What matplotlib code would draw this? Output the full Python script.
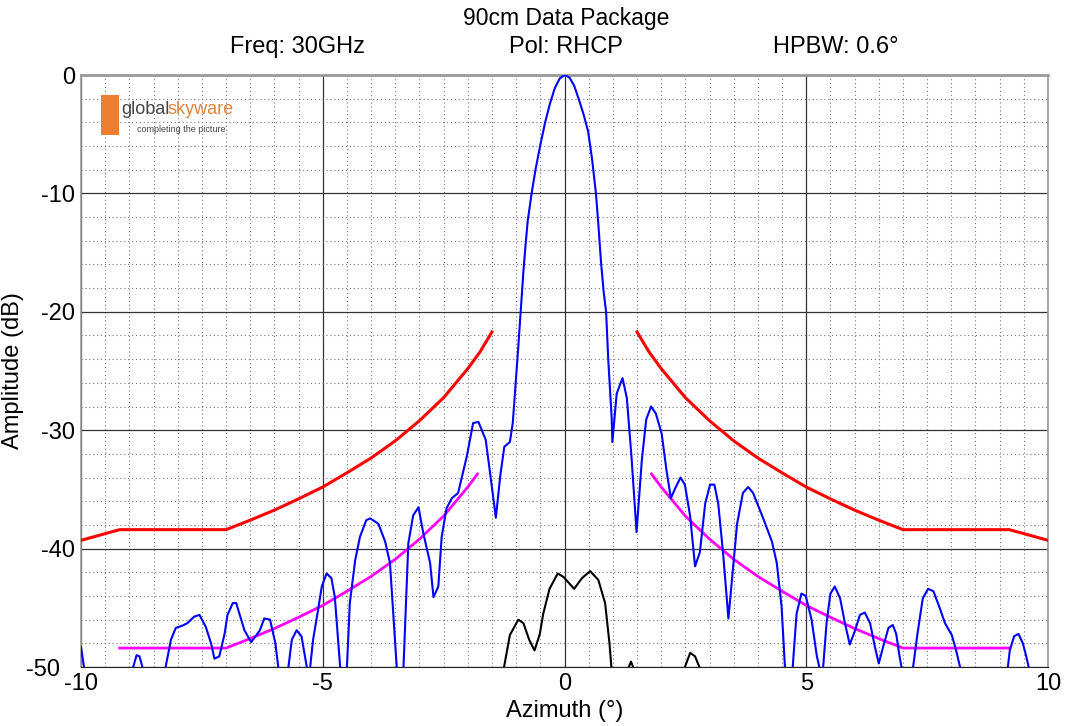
import matplotlib
matplotlib.use("Agg")
import matplotlib.pyplot as plt
from matplotlib.patches import Rectangle
from matplotlib.ticker import MultipleLocator
from matplotlib.transforms import ScaledTranslation

plt.rcParams["font.family"] = ["Liberation Sans", "DejaVu Sans"]
plt.rcParams["axes.unicode_minus"] = False

# co-polar pattern (blue), values below -50 fall under the plot floor
co_az = [-10.0, -9.92, -9.85, -9.4, -8.97, -8.92, -8.85, -8.79, -8.73, -8.68, -8.5, -8.3,
         -8.25, -8.14, -8.04, -7.9, -7.8, -7.66, -7.55, -7.42, -7.31, -7.24, -7.14, -7.03,
         -6.97, -6.86, -6.79, -6.62, -6.48, -6.3, -6.21, -6.09, -5.98, -5.92, -5.87, -5.8,
         -5.75, -5.71, -5.64, -5.54, -5.44, -5.33, -5.3, -5.26, -5.2, -5.11, -5.02, -4.92,
         -4.82, -4.75, -4.64, -4.58, -4.5, -4.44, -4.33, -4.23, -4.1, -4.02, -3.85, -3.71,
         -3.61, -3.47, -3.4, -3.33, -3.23, -3.13, -3.02, -2.92, -2.78, -2.71, -2.61, -2.54,
         -2.44, -2.33, -2.2, -2.02, -1.89, -1.78, -1.63, -1.53, -1.42, -1.33, -1.245, -1.13,
         -1.07, -1.02, -0.96, -0.906, -0.85, -0.8, -0.76, -0.68, -0.6, -0.5, -0.4, -0.3, -0.2,
         -0.1, 0.0, 0.1, 0.2, 0.3, 0.4, 0.49, 0.57, 0.65, 0.7, 0.755, 0.81,
         0.86, 0.906, 0.976, 0.99, 1.08, 1.2, 1.29, 1.39, 1.49, 1.6, 1.69, 1.79,
         1.89, 2.01, 2.11, 2.2, 2.29, 2.4, 2.49, 2.6, 2.7, 2.8, 2.91, 3.01, 3.1, 3.18, 3.28,
         3.39, 3.49, 3.57, 3.69, 3.8, 3.9, 4.11, 4.29, 4.39, 4.49, 4.56, 4.64, 4.72, 4.8, 4.9,
         4.99, 5.11, 5.22, 5.27, 5.31, 5.35, 5.42, 5.5, 5.59, 5.7, 5.8, 5.9, 6.01, 6.11, 6.21,
         6.32, 6.42, 6.5, 6.59, 6.7, 6.79, 6.86, 6.93, 6.97, 7.08, 7.21, 7.3, 7.41, 7.52, 7.63,
         7.75, 7.87, 8.01, 8.1, 8.18, 8.25, 8.7, 9.1, 9.17, 9.21, 9.3, 9.39, 9.48, 9.55, 9.6,
         9.7, 10.0]
co_db = [-48.3, -50.5, -56, -58, -53, -50, -49.0, -49.1, -50, -53, -57, -53,
         -50, -47.7, -46.7, -46.5, -46.3, -45.75, -45.6, -46.6, -48.0, -49.3, -49.1, -47.2,
         -45.6, -44.6, -44.6, -46.9, -47.9, -46.9, -45.9, -46.0, -48, -50, -53, -55,
         -53, -50, -47.7, -46.9, -47.4, -50, -53, -50, -47.7, -45.5, -43.2, -42.1,
         -42.5, -44.1, -50, -56, -50, -44.6, -41.0, -39.0, -37.6, -37.45, -37.9, -39.4,
         -41.2, -50, -57, -50, -39.55, -37.2, -36.5, -38.7, -41.2, -44.1, -43.2, -39.0,
         -36.6, -35.75, -35.3, -32.2, -29.4, -29.3, -30.8, -33.9, -37.4, -33.9, -31.4, -31.0,
         -29.4, -26.6, -23.2, -20.0, -16.6, -14.1, -12.3, -10.0, -8.0, -5.9, -4.0, -2.4, -1.1,
         -0.3, 0.0, -0.2, -0.9, -2.1, -3.4, -4.8, -7.1, -10.0, -12.6, -15.8, -18.3,
         -20.0, -24.1, -29.0, -31.0, -26.9, -25.6, -27.3, -32.5, -38.6, -32.5, -29.1, -28.0,
         -28.6, -30.3, -33.4, -35.75, -34.9, -34.0, -34.6, -37.3, -41.5, -40.3, -36.2, -34.6, -34.6, -36.2, -40.4,
         -45.9, -41.5, -37.9, -35.3, -34.8, -35.3, -37.45, -39.4, -41.2, -44.9, -50, -56, -50, -45.5, -43.8,
         -44.0, -46.0, -49.1, -50, -53, -50, -46.3, -43.8, -43.2, -44.2, -46.3, -48.1, -46.9, -45.6, -45.4,
         -46.3, -48.3, -49.7, -48.3, -46.7, -46.45, -47.2, -49.1, -50, -57, -50, -47.2, -44.2, -43.4, -43.6,
         -44.9, -46.3, -47.3, -48.6, -50, -54, -57, -54, -50, -48.6, -47.4, -47.2, -48.0, -49.1, -50,
         -54, -56]

# cross-polar pattern (black)
xp_az = [-1.35, -1.25, -1.13, -0.955, -0.85, -0.73, -0.62, -0.51, -0.44, -0.31, -0.14, -0.02,
         0.2, 0.36, 0.53, 0.7, 0.84, 0.93, 0.97, 1.0, 1.15, 1.3, 1.375, 1.45, 1.6, 2.3, 2.49,
         2.6, 2.7, 2.79, 2.9]
xp_db = [-54, -50, -47.3, -46.0, -46.3, -47.7, -48.6, -47.2, -45.5, -43.4, -42.1, -42.4,
         -43.4, -42.5, -41.9, -42.65, -44.6, -48.0, -50, -53, -56, -50.3, -49.55, -50.3, -56, -56, -50,
         -48.8, -49.1, -50, -55]

# co-polar mask (red), one side
mask_az = [1.5, 1.75, 2.0, 2.5, 3.0, 3.5, 4.0, 4.5, 5.0, 5.5, 6.0, 6.5, 7.0, 9.2, 9.6, 10.0]
mask_db = [-21.7, -23.4, -24.8, -27.25, -29.2, -30.9, -32.35, -33.6, -34.8, -35.8, -36.75,
           -37.6, -38.4, -38.4, -38.85, -39.3]

# cross-polar mask (magenta), one side
xmask_az = [1.8, 2.0, 2.5, 3.0, 3.5, 4.0, 4.5, 5.0, 5.5, 6.0, 6.5, 7.0, 9.2]
xmask_db = [-33.7, -34.8, -37.25, -39.2, -40.9, -42.35, -43.6, -44.8, -45.8, -46.75, -47.6,
            -48.4, -48.4]

W, H = 1071, 726
fig = plt.figure(figsize=(W / 100, H / 100), dpi=100)
ax = fig.add_axes([81 / W, 1 - 667 / H, (1048 - 81) / W, (667 - 75) / H])


def px(x, y):
    return x / W, 1 - y / H


ax.plot(co_az, co_db, color="#0000ff", lw=1.5, zorder=4)
ax.plot(xp_az, xp_db, color="black", lw=1.5, zorder=4)
ax.plot(mask_az, mask_db, color="#ff0000", lw=2.2, zorder=3)
ax.plot([-a for a in mask_az], mask_db, color="#ff0000", lw=2.2, zorder=3)
ax.plot(xmask_az, xmask_db, color="#ff00ff", lw=2, zorder=3)
ax.plot([-a for a in xmask_az], xmask_db, color="#ff00ff", lw=2, zorder=3)

ax.set_xlim(-10, 10)
ax.set_ylim(-50, 0)
ax.xaxis.set_major_locator(MultipleLocator(5))
ax.xaxis.set_minor_locator(MultipleLocator(0.5))
ax.yaxis.set_major_locator(MultipleLocator(10))
ax.yaxis.set_minor_locator(MultipleLocator(2))
ax.grid(which="major", color="#333333", lw=0.9, ls="-")
ax.grid(which="minor", color="#777777", lw=0.8, ls=(0, (1, 2.5)))
ax.set_axisbelow(True)
ax.tick_params(which="both", length=0, labelsize=17, pad=4)

for side in ["top", "right", "left"]:
    ax.spines[side].set_color("#999999")
ax.spines["top"].set_linewidth(2)
ax.spines["right"].set_linewidth(1.2)
ax.spines["left"].set_linewidth(1.2)
ax.spines["bottom"].set_color("#222222")

ax.set_xlabel("Azimuth (°)", fontsize=17, labelpad=4)
ax.set_ylabel("Amplitude (dB)", fontsize=17, labelpad=2)

fig.text(*px(566, 19), "90cm Data Package", fontsize=16.5, ha="center", va="center")
fig.text(*px(297, 47), "Freq: 30GHz", fontsize=17, ha="center", va="center")
fig.text(*px(566, 47), "Pol: RHCP", fontsize=17, ha="center", va="center")
fig.text(*px(836, 47), "HPBW: 0.6°", fontsize=17, ha="center", va="center")

# logo
x0, y0 = px(101, 135)
x1, y1 = px(119, 95)
fig.patches.append(Rectangle((x0, y0), x1 - x0, y1 - y0, transform=fig.transFigure,
                             facecolor="#ef7d2e", edgecolor="none", zorder=5))
narrow = ["Liberation Sans Narrow", "Liberation Sans"]
fig.text(*px(121, 110), "global", fontsize=13, color="#444444", ha="left", va="center",
         family=narrow, zorder=6)
fig.text(*px(168, 110), "skyware", fontsize=13, color="#e8823c", ha="left", va="center",
         family=narrow, zorder=6)
fig.text(*px(137, 130), "completing the picture", fontsize=6.5, color="#444444", ha="left",
         va="center", family=narrow, zorder=6)

# bottom y label sits further left, clear of the x "-10"
fig.canvas.draw()
for tick in ax.yaxis.get_major_ticks():
    if abs(tick.get_loc() + 50) < 1e-6:
        lab = tick.label1
        lab.set_transform(lab.get_transform() + ScaledTranslation(-15 / 100, 0, fig.dpi_scale_trans))

fig.savefig("out.png", dpi=100)
